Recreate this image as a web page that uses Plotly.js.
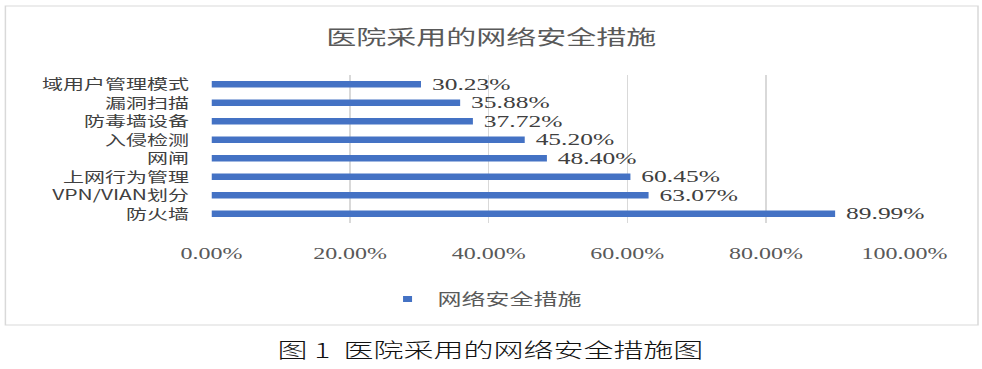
<!DOCTYPE html>
<html>
<head>
<meta charset="utf-8">
<script src="https://cdn.plot.ly/plotly-3.0.1.min.js"></script>
<style>
  html, body { margin: 0; padding: 0; background: #ffffff; overflow: hidden; }
  #wrap { width: 982px; height: 369px; overflow: hidden; }
  #chart { width: 655px; height: 369px; transform: scaleX(1.5); transform-origin: 0 0; }
</style>
</head>
<body>
<div id="wrap"><div id="chart"></div></div>
<script>
// ---- data ----
const categories = ['域用户管理模式', '漏洞扫描', '防毒墙设备', '入侵检测', '网闸', '上网行为管理', 'VPN/VIAN划分', '防火墙'];
const values = [30.23, 35.88, 37.72, 45.20, 48.40, 60.45, 63.07, 89.99];
const tickValues = [0, 20, 40, 60, 80, 100];
const tickLabels = ['0.00%', '20.00%', '40.00%', '60.00%', '80.00%', '100.00%'];
const chartTitle = '医院采用的网络安全措施';
const seriesName = '网络安全措施';
const caption = '图 1  医院采用的网络安全措施图';

const blue = '#4472C4';
const serif = '"Liberation Serif", "Times New Roman", serif';
const cjk = '"Noto Sans CJK SC", "Noto Sans", sans-serif';

const labels = values.map(v => '\u00a0' + v.toFixed(2) + '%');

const traces = [
  {
    type: 'bar',
    orientation: 'h',
    x: values,
    y: categories,
    marker: { color: blue },
    text: labels,
    textposition: 'outside',
    constraintext: 'none',
    cliponaxis: false,
    textfont: { family: serif, size: 17, color: '#404040' },
    showlegend: false,
    hoverinfo: 'skip'
  },
  {
    type: 'scatter',
    mode: 'markers',
    x: [null],
    y: [null],
    name: seriesName,
    marker: { symbol: 'square', size: 6, color: blue },
    showlegend: true
  }
];

// plot area (unscaled px): left 141, right 603, top 75, bottom 223
const L = 141, R = 52, T = 75, B = 146;
const W = 655, H = 369;
const pw = W - L - R, ph = H - T - B;
const px = x => (x - L) / pw;          // unscaled x px -> paper
const py = y => (H - B - y) / ph;      // y px -> paper

const layout = {
  width: W,
  height: H,
  margin: { l: L, r: R, t: T, b: B, pad: 0 },
  paper_bgcolor: '#ffffff',
  plot_bgcolor: '#ffffff',
  bargap: 0.64,
  title: {
    text: chartTitle,
    font: { family: cjk, size: 20, color: '#595959' },
    x: 0.5, xref: 'container', xanchor: 'center',
    y: 1 - 38 / H, yref: 'container', yanchor: 'middle'
  },
  xaxis: {
    range: [0, 100],
    tickvals: tickValues,
    ticktext: tickLabels,
    showgrid: true,
    gridcolor: '#d9d9d9',
    gridwidth: 1,
    zeroline: false,
    showline: false,
    ticks: '',
    ticklabelstandoff: 19,
    tickfont: { family: serif, size: 16, color: '#595959' },
    fixedrange: true
  },
  yaxis: {
    type: 'category',
    autorange: 'reversed',
    showgrid: false,
    zeroline: false,
    showline: false,
    ticks: '',
    ticklabelstandoff: 14,
    tickfont: { family: cjk, size: 14, color: '#404040' },
    fixedrange: true
  },
  showlegend: true,
  legend: {
    orientation: 'h',
    x: px(288.7 - 37), xanchor: 'left',
    y: py(299), yanchor: 'middle',
    font: { family: cjk, size: 16, color: '#595959' },
    bgcolor: 'rgba(0,0,0,0)',
    borderwidth: 0
  },
  shapes: [
    {
      type: 'rect', xref: 'paper', yref: 'paper', layer: 'below',
      x0: px(3.6), x1: px(652), y0: py(325), y1: py(6),
      line: { color: '#d9d9d9', width: 1 },
      fillcolor: 'rgba(0,0,0,0)'
    }
  ],
  annotations: [
    {
      text: caption,
      xref: 'paper', yref: 'paper',
      x: px(327.3), y: py(349),
      xanchor: 'center', yanchor: 'middle',
      showarrow: false,
      font: { family: cjk, size: 20, weight: 300, color: '#111111' }
    }
  ]
};

Plotly.newPlot('chart', traces, layout, { staticPlot: true, displayModeBar: false });
</script>
</body>
</html>
